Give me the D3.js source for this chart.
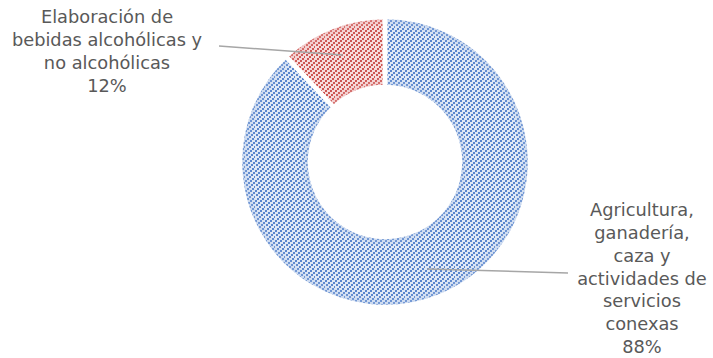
<!DOCTYPE html>
<html><head><meta charset="utf-8">
<script src="https://cdn.jsdelivr.net/npm/d3@7"></script>
<style>html,body{margin:0;padding:0;background:#fff;}</style>
</head><body>
<svg id="c" width="713" height="358"></svg>
<script>
const categories = ["Agricultura, ganadería, caza y actividades de servicios conexas", "Elaboración de bebidas alcohólicas y no alcohólicas"];
const values = [88, 12];
const labelLines = [
  ["Agricultura,", "ganadería,", "caza y", "actividades de", "servicios", "conexas", "88%"],
  ["Elaboración de", "bebidas alcohólicas y", "no alcohólicas", "12%"]
];
const fg = ["#5985cd", "#cc5552"];
const bg = ["#e0e9f6", "#f7dcdc"];
const edge = ["#a9c0e4", "#e8abab"];

const svg = d3.select("#c");
const cx = 385, cy = 162, R = 145, r0 = 75;
const defs = svg.append("defs");

const squares = [[0,8],[2,6],[4,4],[6,2],[8,0],[5,8],[7,6],[9,4],[1,2],[3,0]];
values.forEach((v, i) => {
  const p = defs.append("pattern").attr("id", "pat" + i)
    .attr("patternUnits", "userSpaceOnUse").attr("width", 10).attr("height", 10);
  p.append("rect").attr("width", 10).attr("height", 10).attr("fill", bg[i]);
  squares.forEach(([x, y]) => p.append("rect").attr("x", x).attr("y", y).attr("width", 2).attr("height", 2)
      .attr("fill", fg[i]).attr("shape-rendering", "crispEdges"));
  const g = defs.append("radialGradient").attr("id", "rg" + i)
    .attr("gradientUnits", "userSpaceOnUse").attr("cx", 0).attr("cy", 0).attr("r", R);
  const a = r0 / R;
  g.append("stop").attr("offset", a).attr("stop-color", edge[i]).attr("stop-opacity", 0.5);
  g.append("stop").attr("offset", a + 0.07).attr("stop-color", edge[i]).attr("stop-opacity", 0);
  g.append("stop").attr("offset", 0.92).attr("stop-color", edge[i]).attr("stop-opacity", 0);
  g.append("stop").attr("offset", 1).attr("stop-color", edge[i]).attr("stop-opacity", 0.5);
});

const pie = d3.pie().sort(null).value(d => d);
const arcs = pie(values);
const arc = d3.arc().innerRadius(r0).outerRadius(R);
const g = svg.append("g").attr("transform", `translate(${cx},${cy})`);
g.selectAll("path.s").data(arcs).join("path").attr("class", "s")
  .attr("d", arc).attr("fill", (d, i) => `url(#pat${i})`);
g.selectAll("path.o").data(arcs).join("path").attr("class", "o")
  .attr("d", arc).attr("fill", (d, i) => `url(#rg${i})`);
g.selectAll("path.b").data(arcs).join("path").attr("class", "b")
  .attr("d", arc).attr("fill", "none").attr("stroke", "#fff").attr("stroke-width", 4.5);

// leader lines
const mid = d3.arc().innerRadius((R + r0) / 2 + 5).outerRadius((R + r0) / 2 + 5);
const leaderEnds = [[568, 273], [219, 46]];
arcs.forEach((d, i) => {
  const c = mid.centroid(d);
  svg.append("line").attr("x1", cx + c[0]).attr("y1", cy + c[1])
    .attr("x2", leaderEnds[i][0]).attr("y2", leaderEnds[i][1])
    .attr("stroke", "#a6a6a6").attr("stroke-width", 1.5);
});

// labels
const labelPos = [[642, 210], [107, 17]];
const lh = 22.8;
labelLines.forEach((lines, i) => {
  const t = svg.append("text").attr("text-anchor", "middle")
    .attr("font-family", "'DejaVu Sans', sans-serif").attr("font-size", 17.8)
    .attr("fill", "#595959");
  lines.forEach((s, k) => {
    t.append("tspan").attr("x", labelPos[i][0]).attr("y", labelPos[i][1] + k * lh)
      .attr("dy", "0.35em").text(s);
  });
});
</script>
</body></html>
